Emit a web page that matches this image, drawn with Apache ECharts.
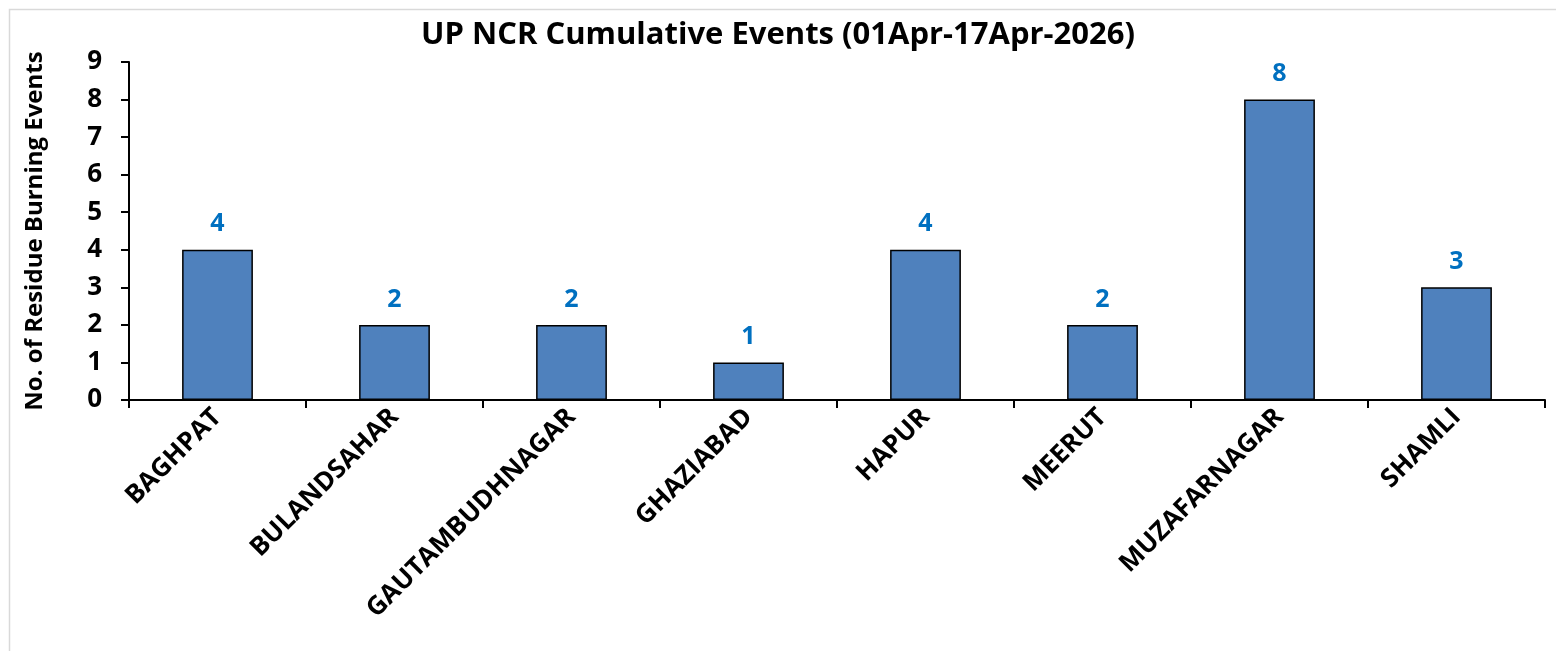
<!DOCTYPE html>
<html>
<head>
<meta charset="utf-8">
<script src="https://cdn.jsdelivr.net/npm/echarts@6/dist/echarts.min.js"></script>
<style>
    html, body { margin: 0; padding: 0; background: #fff; }
    #chart { width: 1556px; height: 651px; }
</style>
</head>
<body>
<div id="chart"></div>
<script>
const districts = ['BAGHPAT', 'BULANDSAHAR', 'GAUTAMBUDHNAGAR', 'GHAZIABAD', 'HAPUR', 'MEERUT', 'MUZAFARNAGAR', 'SHAMLI']
const events = [4, 2, 2, 1, 4, 2, 8, 3]
const yTicks = [0, 9, 1] // min, max, step

const FONT = 'Open Sans'

const chart = echarts.init(document.getElementById('chart'))

chart.setOption({
    animation: false,
    backgroundColor: '#fff',
    title: {
        text: 'UP NCR Cumulative Events (01Apr-17Apr-2026)',
        left: 'center',
        top: 15,
        textStyle: {
            fontFamily: FONT,
            fontWeight: 'bold',
            fontSize: 31,
            color: '#000'
        }
    },
    graphic: [{
        type: 'rect',
        shape: {x: 9.5, y: 9.5, width: 1600, height: 700},
        style: {fill: 'none', stroke: '#d9d9d9', lineWidth: 1.5},
        silent: true,
        z: -1
    }],
    grid: {
        left: 129,
        right: 11,
        top: 62,
        bottom: 251
    },
    xAxis: {
        type: 'category',
        data: districts,
        axisLine: {lineStyle: {color: '#000', width: 2}},
        axisTick: {show: true, length: 8, lineStyle: {color: '#000', width: 2}},
        axisLabel: {
            rotate: 45,
            margin: 13,
            interval: 0,
            fontFamily: FONT,
            fontWeight: 'bold',
            fontSize: 26,
            color: '#000'
        },
        splitLine: {show: false}
    },
    yAxis: {
        type: 'value',
        min: yTicks[0],
        max: yTicks[1],
        interval: yTicks[2],
        name: 'No. of Residue Burning Events',
        nameLocation: 'middle',
        nameGap: 82,
        nameTextStyle: {
            fontFamily: FONT,
            fontWeight: 'bold',
            fontSize: 24,
            color: '#000'
        },
        axisLine: {show: true, lineStyle: {color: '#000', width: 2}},
        axisTick: {show: true, length: 8, lineStyle: {color: '#000', width: 2}},
        axisLabel: {
            margin: 27,
            fontFamily: FONT,
            fontWeight: 'bold',
            fontSize: 26,
            color: '#000'
        },
        splitLine: {show: false}
    },
    series: [{
        type: 'bar',
        data: events,
        barWidth: '40%',
        itemStyle: {
            color: '#4f81bd',
            borderColor: '#000',
            borderWidth: 1.5
        },
        label: {
            show: true,
            position: 'top',
            distance: 13,
            fontFamily: FONT,
            fontWeight: 'bold',
            fontSize: 25,
            color: '#0070c0'
        }
    }]
})
</script>
</body>
</html>
